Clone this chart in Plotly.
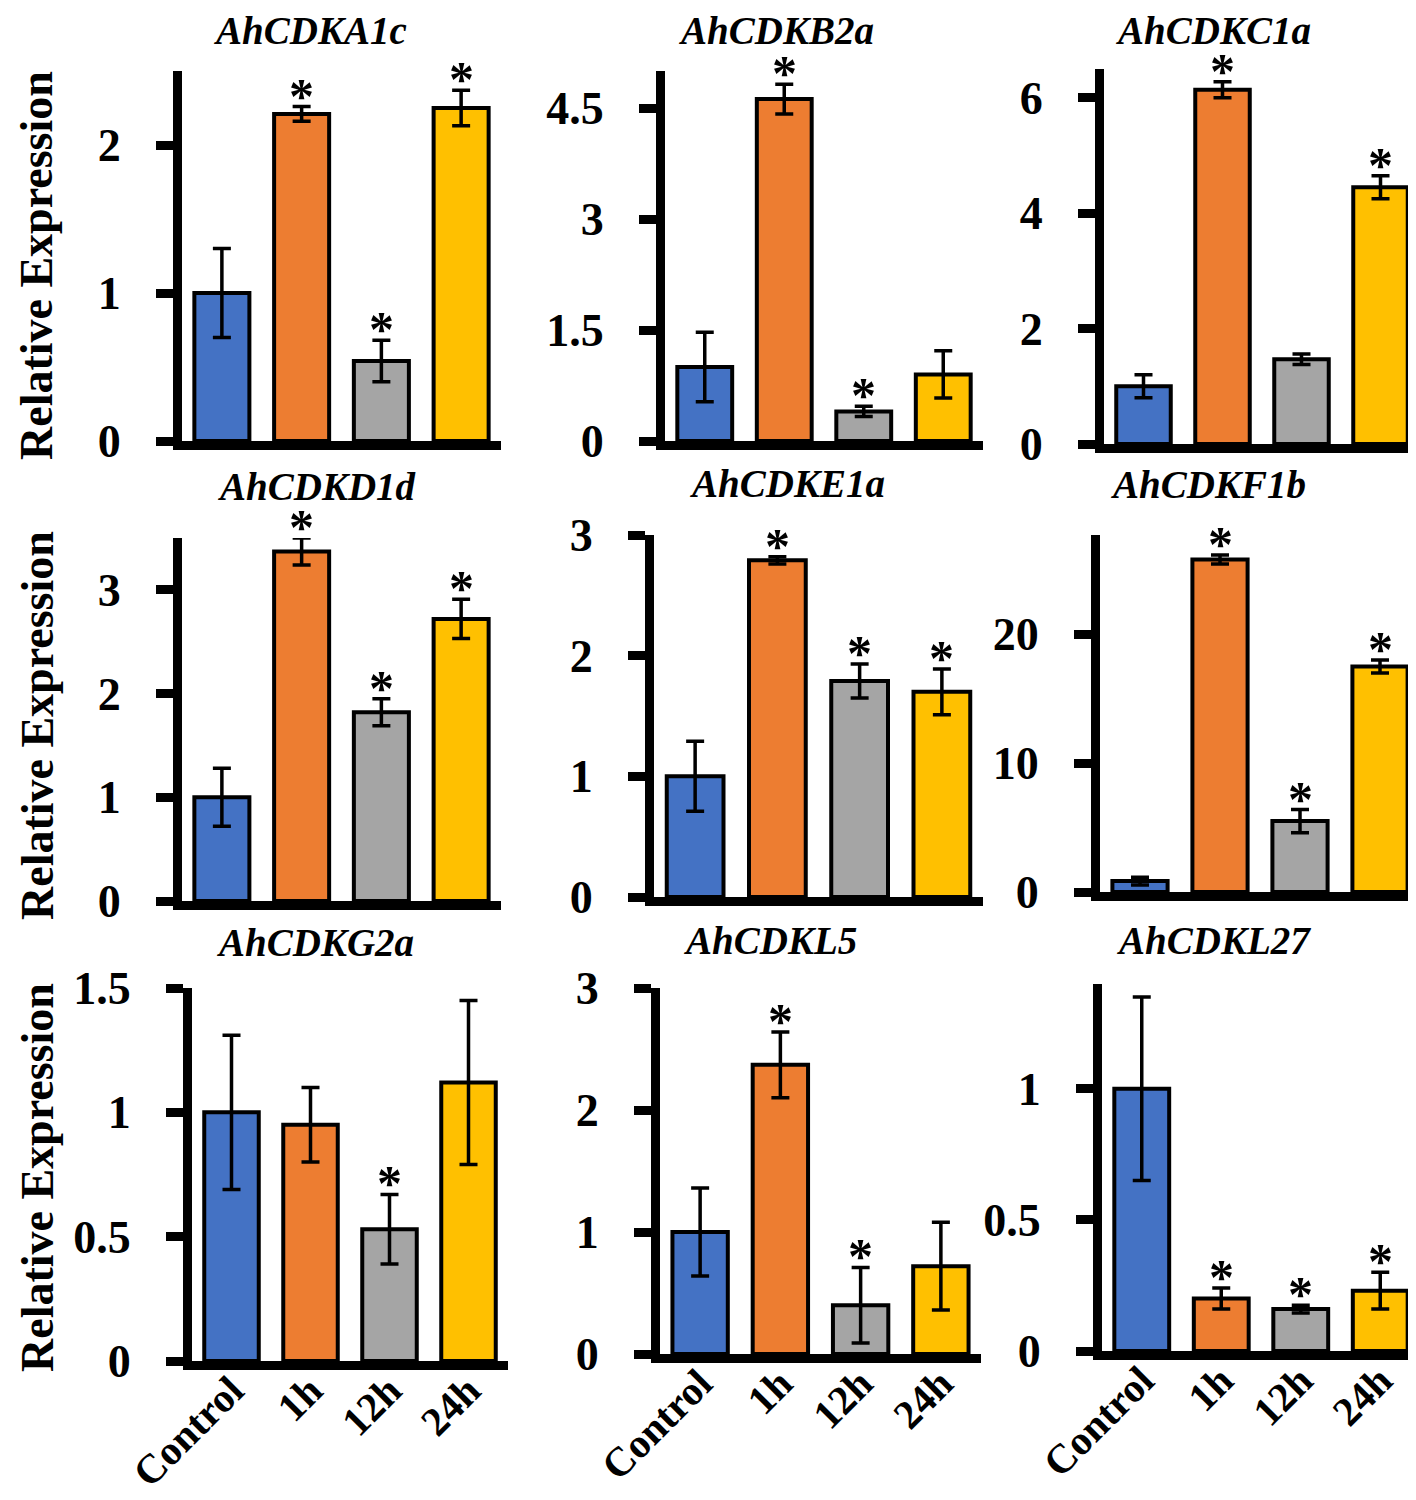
import plotly.graph_objects as go

# ---------------- data ----------------
genes = ["AhCDKA1c", "AhCDKB2a", "AhCDKC1a",
         "AhCDKD1d", "AhCDKE1a", "AhCDKF1b",
         "AhCDKG2a", "AhCDKL5", "AhCDKL27"]
categories = ["Control", "1h", "12h", "24h"]

mean_A1c = [1.00, 2.21, 0.54, 2.25]
err_A1c = [0.30, 0.05, 0.14, 0.12]
sig_A1c = [0, 1, 1, 1]

mean_B2a = [1.00, 4.62, 0.40, 0.90]
err_B2a = [0.47, 0.20, 0.07, 0.32]
sig_B2a = [0, 1, 1, 0]

mean_C1a = [1.00, 6.14, 1.47, 4.45]
err_C1a = [0.20, 0.14, 0.09, 0.20]
sig_C1a = [0, 1, 0, 1]

mean_D1d = [1.00, 3.37, 1.82, 2.72]
err_D1d = [0.28, 0.13, 0.13, 0.19]
sig_D1d = [0, 1, 1, 1]

mean_E1a = [1.00, 2.79, 1.79, 1.70]
err_E1a = [0.29, 0.03, 0.14, 0.19]
sig_E1a = [0, 1, 1, 1]

mean_F1b = [0.85, 25.8, 5.5, 17.5]
err_F1b = [0.30, 0.35, 0.90, 0.50]
sig_F1b = [0, 1, 1, 1]

mean_G2a = [1.00, 0.95, 0.53, 1.12]
err_G2a = [0.31, 0.15, 0.14, 0.33]
sig_G2a = [0, 0, 1, 0]

mean_L5 = [1.00, 2.37, 0.40, 0.72]
err_L5 = [0.36, 0.27, 0.31, 0.36]
sig_L5 = [0, 1, 1, 0]

mean_L27 = [1.00, 0.20, 0.16, 0.23]
err_L27 = [0.35, 0.04, 0.015, 0.07]
sig_L27 = [0, 1, 1, 1]

means = [mean_A1c, mean_B2a, mean_C1a, mean_D1d, mean_E1a, mean_F1b, mean_G2a, mean_L5, mean_L27]
errs = [err_A1c, err_B2a, err_C1a, err_D1d, err_E1a, err_F1b, err_G2a, err_L5, err_L27]
sigs = [sig_A1c, sig_B2a, sig_C1a, sig_D1d, sig_E1a, sig_F1b, sig_G2a, sig_L5, sig_L27]

y_max = [2.5, 5.0, 6.5, 3.5, 3.0, 27.7, 1.5, 3.0, 1.4]
y_ticks = [[0, 1, 2], [0, 1.5, 3, 4.5], [0, 2, 4, 6],
           [0, 1, 2, 3], [0, 1, 2, 3], [0, 10, 20],
           [0, 0.5, 1, 1.5], [0, 1, 2, 3], [0, 0.5, 1]]
y_ticktext = [["0", "1", "2"], ["0", "1.5", "3", "4.5"], ["0", "2", "4", "6"],
              ["0", "1", "2", "3"], ["0", "1", "2", "3"], ["0", "10", "20"],
              ["0", "0.5", "1", "1.5"], ["0", "1", "2", "3"], ["0", "0.5", "1"]]
y_title = "Relative Expression"

# ---------------- layout geometry (pixels) ----------------
W, H = 1416, 1500
# (left, right, top, bottom) of each plot area
geom = [
    (174, 493, 63, 433), (657, 975, 63, 433), (1096, 1412, 61, 436),
    (174, 493, 530, 893), (646, 975, 527, 889), (1092, 1412, 527, 884),
    (184, 500, 980, 1353), (652, 973, 980, 1346), (1094, 1412, 976, 1343),
]
# (center x, top y) of each panel title box
title_pos = [(302, 0), (768, 0), (1205, 0),
             (308, 456), (779, 453), (1200, 454),
             (307, 912), (762, 910), (1205, 910)]
ylabel_pos = [(29, 258), (29, 718), (29, 1170)]

colors = ["#4472C4", "#ED7D31", "#A5A5A5", "#FFC000"]
FONT = "Liberation Serif, Times New Roman, serif"

fig = go.Figure()
layout = dict(width=W, height=H, margin=dict(l=0, r=0, t=0, b=0, autoexpand=False),
              template="none",
              paper_bgcolor="white", plot_bgcolor="white",
              showlegend=False, bargap=0.31)
annotations = []

for i in range(9):
    n = i + 1
    xa = "x" if n == 1 else f"x{n}"
    ya = "y" if n == 1 else f"y{n}"
    fig.add_trace(go.Bar(
        x=categories, y=means[i],
        marker=dict(color=colors, line=dict(color="black", width=4)),
        error_y=dict(type="data", array=errs[i], visible=True,
                     color="black", thickness=3.5, width=9),
        xaxis=xa, yaxis=ya, hoverinfo="skip",
    ))
    l, r, t, b = geom[i]
    row = i // 3
    layout[f"xaxis{'' if n == 1 else n}"] = dict(
        domain=[l / W, r / W], anchor=ya, automargin=False,
        showline=True, linecolor="black", linewidth=9,
        showgrid=False, zeroline=False, ticks="",
        showticklabels=(row == 2), tickangle=-45, ticklabelstandoff=-20,
        tickfont=dict(family=FONT, size=41, color="black", weight="bold"),
        fixedrange=True,
    )
    layout[f"yaxis{'' if n == 1 else n}"] = dict(
        domain=[1 - b / H, 1 - t / H], anchor=xa, automargin=False,
        range=[0, y_max[i]],
        tickvals=y_ticks[i], ticktext=y_ticktext[i],
        showline=True, linecolor="black", linewidth=9,
        ticks="outside", ticklen=17, tickwidth=9, tickcolor="black",
        ticklabelstandoff=26,
        showgrid=False, zeroline=False,
        tickfont=dict(family=FONT, size=46, color="black", weight="bold"),
        fixedrange=True,
    )
    # title
    cx, cy = title_pos[i]
    annotations.append(dict(
        x=cx / W, y=1 - cy / H, xref="paper", yref="paper",
        text=genes[i], showarrow=False, xanchor="center", yanchor="top",
        borderpad=0,
        font=dict(family=FONT, size=39, color="black", weight="bold", style="italic"),
    ))
    # significance asterisks
    for j, s in enumerate(sigs[i]):
        if s:
            annotations.append(dict(
                x=categories[j], y=means[i][j] + errs[i][j], xref=xa, yref=ya,
                text="*", showarrow=False, xanchor="center", yanchor="bottom",
                yshift=-18, borderpad=0,
                font=dict(family=FONT, size=50, color="black", weight="bold"),
            ))

for (px, py) in ylabel_pos:
    annotations.append(dict(
        x=px / W, y=1 - py / H, xref="paper", yref="paper",
        text=y_title, showarrow=False, textangle=-90,
        xanchor="center", yanchor="middle",
        font=dict(family=FONT, size=46, color="black", weight="bold"),
    ))

layout["annotations"] = annotations
fig.update_layout(**layout)
fig.write_html("out.html")
